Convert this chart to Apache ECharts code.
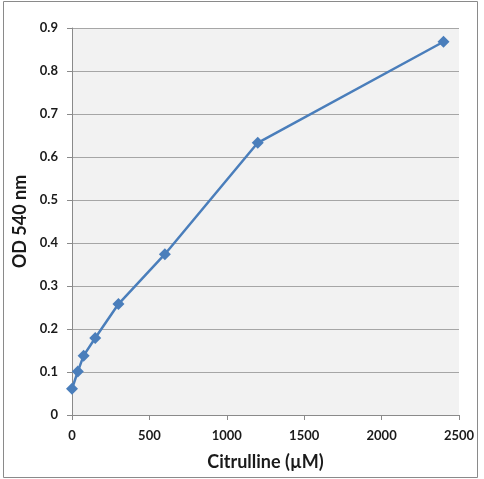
<!DOCTYPE html>
<html>
<head>
<meta charset="utf-8">
<script src="https://cdn.jsdelivr.net/npm/echarts@6/dist/echarts.min.js"></script>
<style>
    html, body { margin: 0; padding: 0; background: #fff; }
    #chart { width: 484px; height: 479px; }
</style>
</head>
<body>
<div id="chart"></div>
<script>
// citrulline standard curve
var citrulline = [0, 37.5, 75, 150, 300, 600, 1200, 2400];
var od540 = [0.061, 0.101, 0.138, 0.179, 0.258, 0.374, 0.633, 0.868];
var x_ticks = [0, 500, 1000, 1500, 2000, 2500];
var y_ticks = [0, 0.1, 0.2, 0.3, 0.4, 0.5, 0.6, 0.7, 0.8, 0.9];

var CHART = {
    font: "Lato, 'Open Sans', sans-serif",
    init: function(){
        var _this = this;
        var myChart = echarts.init(document.getElementById("chart"));
        myChart.setOption(_this.init_option());
    },
    init_option: function(){
        var _this = this;
        var points = [];
        for (var i = 0; i < citrulline.length; i++){
            points.push([citrulline[i], od540[i]]);
        }
        var axisLine = { show: true, lineStyle: { color: "#8a8a8a", width: 1 } };
        var axisTick = { show: true, inside: false, length: 5, lineStyle: { color: "#8a8a8a" } };
        var option = {
            animation: false,
            graphic: [{
                type: "rect",
                shape: { x: 3.5, y: 1.5, width: 474, height: 476 },
                style: { fill: null, stroke: "#8a8a8a", lineWidth: 1 }
            }],
            grid: {
                left: 72, top: 28, right: 25, bottom: 64,
                show: true, backgroundColor: "#f2f2f2", borderWidth: 0
            },
            xAxis: {
                type: "value",
                min: x_ticks[0],
                max: x_ticks[x_ticks.length - 1],
                interval: 500,
                name: "Citrulline (\u00b5M)",
                nameLocation: "middle",
                nameGap: 38,
                nameTextStyle: { fontFamily: _this.font, fontWeight: "bold", fontSize: 18, color: "#1a1a1a" },
                axisLine: axisLine,
                axisTick: axisTick,
                splitLine: { show: false },
                axisLabel: {
                    fontFamily: _this.font, fontWeight: "bold", fontSize: 13, color: "#1a1a1a", margin: 14,
                    formatter: function(v){ return String(v); }
                }
            },
            yAxis: {
                type: "value",
                min: y_ticks[0],
                max: y_ticks[y_ticks.length - 1],
                interval: 0.1,
                name: "OD 540 nm",
                nameLocation: "middle",
                nameGap: 42,
                nameTextStyle: { fontFamily: _this.font, fontWeight: "bold", fontSize: 18, color: "#1a1a1a" },
                axisLine: axisLine,
                axisTick: axisTick,
                splitLine: { show: true, lineStyle: { color: "#a6a6a6", width: 1 } },
                axisLabel: {
                    fontFamily: _this.font, fontWeight: "bold", fontSize: 13, color: "#1a1a1a", margin: 14,
                    formatter: function(v){ return v === 0 ? "0" : v.toFixed(1); }
                }
            },
            series: [{
                type: "line",
                data: points,
                symbol: "diamond",
                symbolSize: 12,
                itemStyle: { color: "#4a7ebb" },
                lineStyle: { color: "#4a7ebb", width: 2.5 }
            }]
        };
        return option;
    }
};

CHART.init();
</script>
</body>
</html>
